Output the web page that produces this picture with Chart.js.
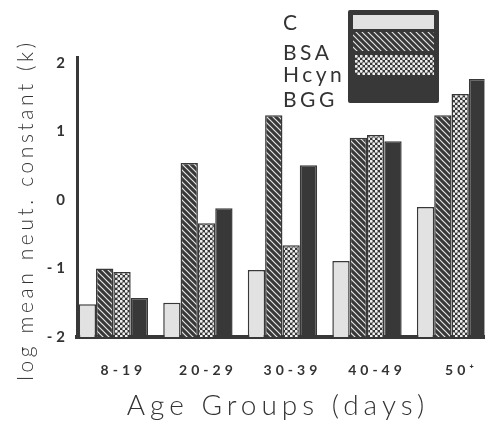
<!DOCTYPE html>
<html>
<head>
<meta charset="utf-8">
<script src="https://cdn.jsdelivr.net/npm/chart.js@4.4.1/dist/chart.umd.min.js"></script>
<style>
html,body{margin:0;padding:0;background:#fff}
#wrap{width:487px;height:425px}
</style>
</head>
<body>
<div id="wrap"><canvas id="chart" width="487" height="425"></canvas></div>
<script>

const ageGroups=["8-19","20-29","30-39","40-49","50⁺"]
const seriesNames=["C","BSA","Hcyn","BGG"]
const valC=[-1.52,-1.50,-1.02,-0.89,-0.10]
const valBSA=[-1.00,0.54,1.24,0.91,1.24]
const valHcyn=[-1.05,-0.34,-0.66,0.95,1.55]
const valBGG=[-1.43,-0.12,0.51,0.86,1.77]
const yTicks=[-2,-1,0,1,2]
const yTitle="log mean neut. constant (k)"
const xTitle="Age Groups (days)"

const DARK="#383838"
const LIGHT="#e2e2e2"
const INK="#333333"

function makeTile(size,draw){
const c=document.createElement("canvas")
c.width=size
c.height=size
const g=c.getContext("2d")
g.fillStyle=DARK
g.fillRect(0,0,size,size)
draw(g)
return g.createPattern(c,"repeat")
}

// light diagonal lines on dark
const hatch=makeTile(6,g=>{
g.strokeStyle="#e6e6e6"
g.lineWidth=1.2
g.beginPath()
g.moveTo(-1,-1);g.lineTo(7,7)
g.moveTo(5,-1);g.lineTo(7,1)
g.moveTo(-1,5);g.lineTo(1,7)
g.stroke()
})

// light dots in a diagonal lattice
const dots=makeTile(5,g=>{
g.fillStyle="#f0f0f0"
g.beginPath()
g.arc(1.25,1.25,1.45,0,Math.PI*2)
g.arc(3.75,3.75,1.45,0,Math.PI*2)
g.fill()
})

const fills=[LIGHT,hatch,dots,DARK]
const values=[valC,valBSA,valHcyn,valBGG]

const datasets=seriesNames.map((name,s)=>({
label:name,
data:values[s].map((v,i)=>({x:i,y:v})),
backgroundColor:fills[s],
borderColor:DARK,
borderWidth:1.5,
base:-2,
categoryPercentage:0.82,
barPercentage:1
}))

const decor={
id:"decor",
beforeDraw(chart){
chart.ctx.letterSpacing="4px"
},
afterDraw(chart){
const ctx=chart.ctx
ctx.save()
ctx.fillStyle=INK

// axis titles
ctx.font="300 21px Lato"
ctx.letterSpacing="3.6px"
ctx.textAlign="center"
ctx.textBaseline="alphabetic"
ctx.save()
ctx.translate(33,210)
ctx.rotate(-Math.PI/2)
ctx.fillText(yTitle,0,0)
ctx.restore()

ctx.font="300 28px Lato"
ctx.letterSpacing="5px"
ctx.fillText(xTitle,278,415)

// legend key box
ctx.fillStyle=DARK
ctx.beginPath()
ctx.roundRect(348,10,91,93,2)
ctx.fill()
ctx.fillStyle=LIGHT
ctx.fillRect(353,15,81,14)
ctx.fillStyle=hatch
ctx.fillRect(353,32,81,19)
ctx.fillStyle=dots
ctx.fillRect(355,55,79,20)

ctx.fillStyle=INK
ctx.font="21px Lato"
ctx.letterSpacing="3.5px"
ctx.textAlign="left"
const ys=[30,60,82,107]
seriesNames.forEach((n,i)=>ctx.fillText(n,283,ys[i]))

ctx.restore()
}
}

new Chart(document.getElementById("chart"),{
type:"bar",
data:{datasets:datasets},
options:{
responsive:false,
animation:false,
devicePixelRatio:1,
layout:{padding:{top:57,right:0,left:0,bottom:0}},
plugins:{legend:{display:false},tooltip:{enabled:false}},
scales:{
x:{
type:"linear",
min:-0.43,
max:4.39,
offset:false,
z:1,
afterBuildTicks:s=>{s.ticks=ageGroups.map((g,i)=>({value:i}))},
afterFit:s=>{s.height=88},
grid:{display:false,drawTicks:false},
border:{display:true,color:DARK,width:4},
ticks:{
padding:25,
labelOffset:10,
autoSkip:false,
maxRotation:0,
color:INK,
font:{family:"Lato",size:14,weight:"bold"},
callback:v=>ageGroups[v]
}
},
y:{
type:"linear",
min:-2,
max:2.09,
z:1,
afterBuildTicks:s=>{s.ticks=yTicks.map(v=>({value:v}))},
afterFit:s=>{s.width=77},
grid:{display:false,drawTicks:false},
border:{display:true,color:DARK,width:3},
ticks:{
padding:8,
color:INK,
font:{family:"Lato",size:15,weight:"bold"}
}
}
}
},
plugins:[decor]
})

</script>
</body>
</html>
